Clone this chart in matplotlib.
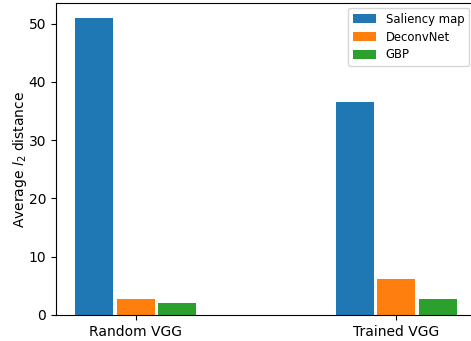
import matplotlib
matplotlib.use('Agg')
import matplotlib.pyplot as plt
import numpy as np

models = ['Random VGG', 'Trained VGG']
methods = ['Saliency map', 'DeconvNet', 'GBP']
saliency = [51.0, 36.6]
deconvnet = [2.8, 6.1]
gbp = [2.1, 2.8]

fig = plt.figure(figsize=(4.71, 3.41), dpi=100)
ax = fig.add_axes([56 / 471, 26 / 341, 420 / 471, 312 / 341])

x = np.arange(len(models))
step = 0.16
width = 0.146
for k, (label, vals) in enumerate(zip(methods, [saliency, deconvnet, gbp])):
    ax.bar(x + (k - 1) * step, vals, width, label=label)

ax.set_xticks(x)
ax.set_xticklabels(models)
ax.set_ylabel('Average $l_2$ distance', labelpad=0)
ax.legend(loc='upper right', bbox_to_anchor=(469 / 471, 1 - 8 / 341),
          bbox_transform=fig.transFigure, borderaxespad=0, fontsize=8.4,
          handleheight=0.75, labelspacing=0.42)

fig.savefig('out.png', dpi=100)
